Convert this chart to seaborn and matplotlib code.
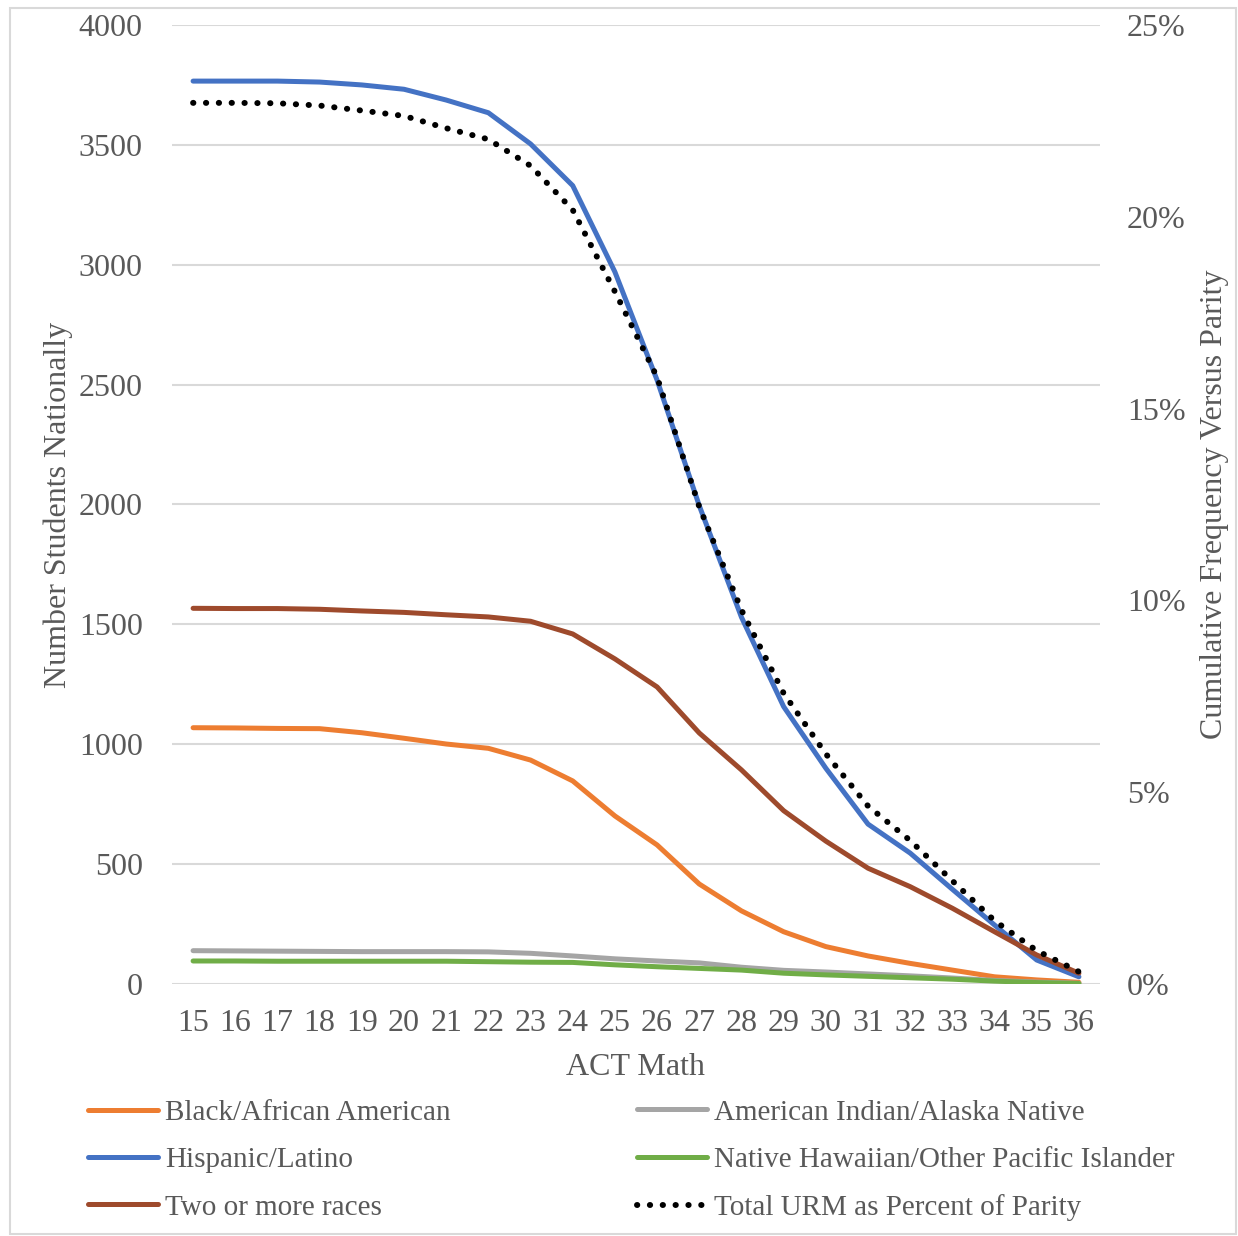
import numpy as np
import pandas as pd
import matplotlib
matplotlib.use("Agg")
import matplotlib.pyplot as plt
import seaborn as sns
from matplotlib.lines import Line2D
from matplotlib.patches import Rectangle
from matplotlib.ticker import FuncFormatter

# ACT math scores and students per group
scores = list(range(15, 37))
black = [1069, 1068, 1066, 1065, 1048, 1025, 1001, 983, 934, 847, 701, 580,
         417, 305, 218, 156, 117, 86, 58, 30, 17, 7]
am_indian = [139, 138, 137, 136, 135, 135, 135, 134, 128, 117, 105, 96,
             88, 70, 57, 50, 42, 34, 25, 15, 8, 3]
hispanic = [3766, 3766, 3766, 3762, 3750, 3732, 3687, 3634, 3504, 3330, 2970, 2519,
            1995, 1530, 1157, 900, 667, 546, 395, 246, 100, 30]
hawaiian = [96, 96, 95, 95, 95, 95, 95, 93, 91, 90, 80, 72,
            65, 58, 45, 38, 32, 26, 20, 12, 6, 2]
two_more = [1567, 1566, 1566, 1563, 1556, 1550, 1540, 1531, 1513, 1460, 1356, 1239,
            1047, 893, 723, 596, 483, 406, 316, 218, 121, 45]
# total URM as percent of parity (right axis)
total_pct = [22.97, 22.97, 22.96, 22.90, 22.77, 22.63, 22.31, 22.02, 21.33, 20.18, 18.05, 15.82,
             12.44, 9.75, 7.58, 6.00, 4.64, 3.74, 2.69, 1.65, 0.87, 0.32]

groups = {
    "Black/African American": (black, "#ED7D31"),
    "American Indian/Alaska Native": (am_indian, "#A5A5A5"),
    "Hispanic/Latino": (hispanic, "#4472C4"),
    "Native Hawaiian/Other Pacific Islander": (hawaiian, "#70AD47"),
    "Two or more races": (two_more, "#9E4A2C"),
}

sns.set_theme(style="white")
plt.rcParams["font.family"] = ["Liberation Serif", "DejaVu Serif"]
txt = "#595959"
fs = 23

fig = plt.figure(figsize=(12.38, 12.36), dpi=100)
ax = fig.add_axes([172 / 1238, 1 - 984 / 1236, 928 / 1238, 959 / 1236])
ax2 = ax.twinx()

lw = 3.6
dots = (0, (0.05, 2.1))
for name, (vals, col) in groups.items():
    df = pd.DataFrame({"score": scores, "n": vals})
    sns.lineplot(data=df, x="score", y="n", ax=ax, color=col, lw=lw,
                 solid_capstyle="round", solid_joinstyle="round")

df_tot = pd.DataFrame({"score": scores, "pct": total_pct})
sns.lineplot(data=df_tot, x="score", y="pct", ax=ax2, color="black", lw=4.3,
             linestyle=dots, dash_capstyle="round")

ax.set_xlim(14.5, 36.5)
ax.set_ylim(0, 4000)
ax2.set_ylim(0, 25)
ax.set_yticks(range(0, 4001, 500))
ax2.set_yticks(range(0, 26, 5))
ax2.yaxis.set_major_formatter(FuncFormatter(lambda v, p: f"{int(v)}%"))
ax.set_xticks(scores)

ax.grid(axis="y", color="#D9D9D9", lw=1.5)
ax.grid(axis="x", visible=False)
ax2.grid(False)
for a in (ax, ax2):
    for s in a.spines.values():
        s.set_visible(False)
    a.tick_params(length=0, labelsize=fs, colors=txt)
ax.tick_params(axis="y", pad=21)
ax.tick_params(axis="x", pad=18)
ax2.tick_params(axis="y", pad=19.5)

ax.set_xlabel("ACT Math", fontsize=fs, color=txt, labelpad=11)
ax.set_ylabel("Number Students Nationally", fontsize=fs, color=txt, labelpad=4)
ax2.set_ylabel("Cumulative Frequency Versus Parity", fontsize=fs, color=txt, labelpad=10.5)

# legend: two blocks of three rows
left = ["Black/African American", "Hispanic/Latino", "Two or more races"]
right = ["American Indian/Alaska Native", "Native Hawaiian/Other Pacific Islander"]
h_left = [Line2D([], [], color=groups[k][1], lw=lw, solid_capstyle="round") for k in left]
h_right = [Line2D([], [], color=groups[k][1], lw=lw, solid_capstyle="round") for k in right]
h_right.append(Line2D([], [], color="black", lw=4.3, linestyle=dots, dash_capstyle="round"))
lab_right = right + ["Total URM as Percent of Parity"]

common = dict(loc="center left", frameon=False, fontsize=21, labelcolor=txt,
              handletextpad=0.25, labelspacing=0.72, borderaxespad=0, borderpad=0,
              handlelength=2.4)
leg1 = fig.legend(h_left, left, bbox_to_anchor=(88 / 1238, 1 - 1160 / 1236), **common)
leg2 = fig.legend(h_right, lab_right, bbox_to_anchor=(637 / 1238, 1 - 1160 / 1236), **common)

fig.patches.append(Rectangle((10 / 1238, 0.002), 1 - 12 / 1238, 1 - 10 / 1236,
                             transform=fig.transFigure, fill=False,
                             edgecolor="#D9D9D9", lw=1.5))

fig.savefig("out.png", dpi=100)
